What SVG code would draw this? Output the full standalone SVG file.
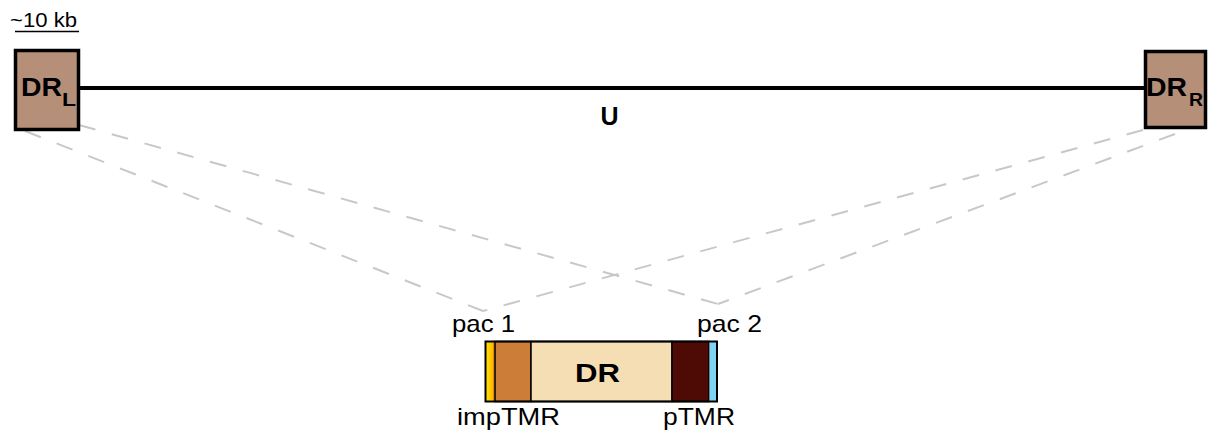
<svg xmlns="http://www.w3.org/2000/svg" width="1208" height="430" viewBox="0 0 1208 430">
<defs>
<style>
.box{fill:#B58F78;stroke:#000;stroke-width:3.5}
.dash{stroke:#C8C8C8;stroke-width:2;stroke-dasharray:17 17;fill:none}
.b{font-family:"Liberation Sans",Arial,sans-serif;font-weight:bold;fill:#000}
.r{font-family:"Liberation Sans",Arial,sans-serif;fill:#000}
.seg{stroke:#000;stroke-width:1.5}
</style>
<linearGradient id="yel" x1="0" y1="0" x2="1" y2="0">
<stop offset="0" stop-color="#FFE600"/>
<stop offset="1" stop-color="#FFB000"/>
</linearGradient>
</defs>
<rect width="1208" height="430" fill="#fff"/>
<g id="connectors">
<line class="dash" x1="79" y1="125" x2="718" y2="304"/>
<line class="dash" x1="25" y1="131" x2="483" y2="311"/>
<line class="dash" x1="1143" y1="130" x2="483" y2="311"/>
<line class="dash" x1="1175" y1="134" x2="718" y2="304"/>
<line id="U-line" x1="79" y1="88" x2="1146" y2="88" stroke="#000" stroke-width="4"/>
</g>
<g id="scale">
<text class="r" x="10" y="27" font-size="20" textLength="67" lengthAdjust="spacingAndGlyphs">~10 kb</text>
<line x1="15" y1="31.5" x2="79" y2="31.5" stroke="#000" stroke-width="1.5"/>
</g>
<g id="DRL">
<rect class="box" x="15.5" y="50.5" width="63" height="79"/>
<text class="b" x="21" y="96" font-size="25" textLength="41" lengthAdjust="spacingAndGlyphs">DR</text>
<text class="b" x="62" y="106" font-size="19" textLength="14" lengthAdjust="spacingAndGlyphs">L</text>
</g>
<g id="DRR">
<rect class="box" x="1145.5" y="51.5" width="60" height="76"/>
<text class="b" x="1146" y="96" font-size="25" textLength="41" lengthAdjust="spacingAndGlyphs">DR</text>
<text class="b" x="1189" y="106" font-size="19" textLength="14" lengthAdjust="spacingAndGlyphs">R</text>
</g>
<g id="U">
<text class="b" x="609.5" y="125" font-size="25" text-anchor="middle">U</text>
</g>
<g id="DR-bar">
<rect x="486" y="341.5" width="8" height="60" fill="url(#yel)"/>
<line x1="494" y1="341.5" x2="494" y2="401.5" stroke="#E07A10" stroke-width="1.5"/>
<rect class="seg" x="495" y="341.5" width="36" height="60" fill="#CC7E38"/>
<rect class="seg" x="531" y="341.5" width="141" height="60" fill="#F6DEB4"/>
<rect class="seg" x="672" y="341.5" width="37" height="60" fill="#4E0A05"/>
<rect x="709.5" y="341.5" width="7" height="60" fill="#7FD3F3"/>
<rect x="485.5" y="341.5" width="231.5" height="60" fill="none" stroke="#000" stroke-width="2"/>
<text class="b" x="597.5" y="382" font-size="25" text-anchor="middle" textLength="45" lengthAdjust="spacingAndGlyphs">DR</text>
</g>
<g id="labels">
<text class="r" x="452" y="332" font-size="24" textLength="63" lengthAdjust="spacingAndGlyphs">pac 1</text>
<text class="r" x="697" y="332" font-size="24" textLength="65" lengthAdjust="spacingAndGlyphs">pac 2</text>
<text class="r" x="457" y="425" font-size="24" textLength="103" lengthAdjust="spacingAndGlyphs">impTMR</text>
<text class="r" x="663" y="425" font-size="24" textLength="72" lengthAdjust="spacingAndGlyphs">pTMR</text>
</g>
</svg>
